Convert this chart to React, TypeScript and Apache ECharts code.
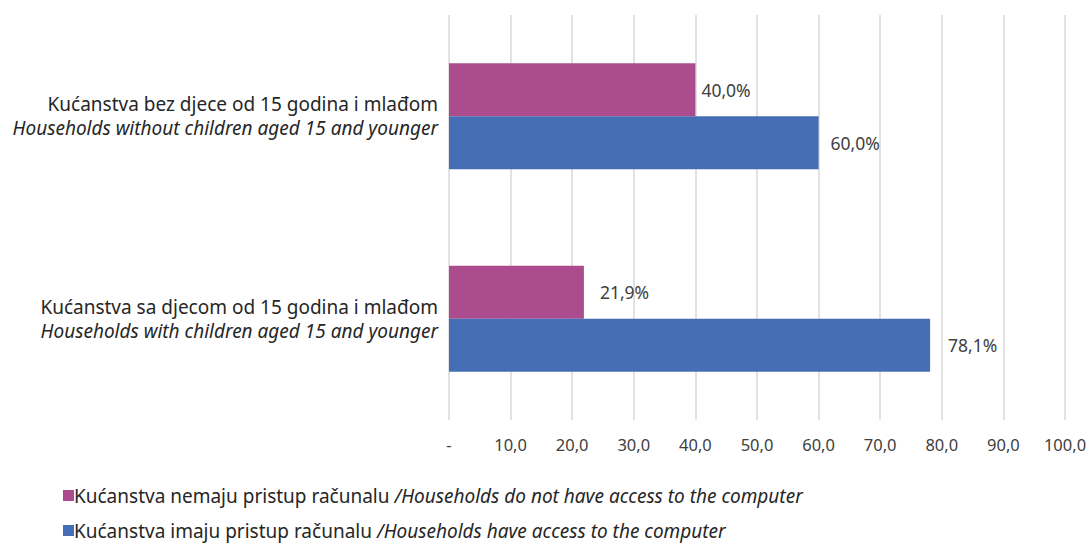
import React, { useEffect, useRef } from "react";
import * as echarts from "echarts";

const categories = [
  ["Kućanstva sa djecom od 15 godina i mlađom", "Households with children aged 15 and younger"],
  ["Kućanstva bez djece od 15 godina i mlađom", "Households without children aged 15 and younger"],
];
const seriesNames = [
  ["Kućanstva nemaju pristup računalu ", "/Households do not have access to the computer"],
  ["Kućanstva imaju pristup računalu ", "/Households have access to the computer"],
];
const noAccess = [21.9, 40.0];
const hasAccess = [78.1, 60.0];
const colors = ["#ad4b8f", "#466eb4"];
const FONT = "Noto Sans";

export default function App() {
  const ref = useRef<HTMLDivElement>(null);
  useEffect(() => {
    const chart = echarts.init(ref.current!, null, { renderer: "svg" });
    const fmt = (v: number) => v.toFixed(1).replace(".", ",");
    const legendRich = {
      n: { fontFamily: FONT, fontSize: 19, color: "#262626" },
      i: { fontFamily: FONT, fontSize: 19, color: "#262626", fontStyle: "italic" },
    };
    const legendFmt = (name: string) => {
      const s = seriesNames.find((p) => p[0].trim() === name)!;
      return `{n|${s[0]}}{i|${s[1]}}`;
    };
    const labelBase = {
      show: true,
      position: "right",
      fontFamily: FONT,
      fontSize: 17.5,
      color: "#404040",
      formatter: (p: any) => fmt(p.value) + "%",
    };
    chart.setOption({
      animation: false,
      textStyle: { fontFamily: FONT },
      grid: { left: 449, right: 27, top: 15, bottom: 124 },
      legend: [
        {
          data: [seriesNames[0][0].trim()],
          left: 58,
          top: 481,
          itemWidth: 11,
          itemHeight: 11,
          icon: "rect",
          formatter: legendFmt,
          textStyle: { rich: legendRich, padding: [0, 0, 0, -5] },
        },
        {
          data: [seriesNames[1][0].trim()],
          left: 58,
          top: 516,
          itemWidth: 11,
          itemHeight: 11,
          icon: "rect",
          formatter: legendFmt,
          textStyle: { rich: legendRich, padding: [0, 0, 0, -5] },
        },
      ],
      xAxis: {
        type: "value",
        min: 0,
        max: 100,
        interval: 10,
        axisLine: { show: false },
        axisTick: { show: false },
        splitLine: { show: true, lineStyle: { color: "#d9d9d9", width: 1.5 } },
        axisLabel: {
          margin: 16,
          fontSize: 16.5,
          color: "#404040",
          fontFamily: FONT,
          formatter: (v: number) => (v === 0 ? "-" : fmt(v)),
        },
      },
      yAxis: {
        type: "category",
        data: categories.map((c) => c[0]),
        axisLine: { show: false },
        axisTick: { show: false },
        axisLabel: {
          margin: 11,
          align: "right",
          formatter: (_: string, idx: number) => `{a|${categories[idx][0]}}\n{b|${categories[idx][1]}}`,
          rich: {
            a: { fontFamily: FONT, fontSize: 19, color: "#262626", lineHeight: 24, align: "right" },
            b: { fontFamily: FONT, fontSize: 19, color: "#262626", lineHeight: 24, fontStyle: "italic", align: "right" },
          },
        },
      },
      series: [
        {
          name: seriesNames[0][0].trim(),
          type: "bar",
          data: noAccess.map((v, i) => ({ value: v, label: { distance: [16, 6][i] } })),
          barWidth: 53,
          barGap: "0%",
          itemStyle: { color: colors[0] },
          label: labelBase,
        },
        {
          name: seriesNames[1][0].trim(),
          type: "bar",
          data: hasAccess.map((v, i) => ({ value: v, label: { distance: [18, 12][i] } })),
          barWidth: 53,
          barGap: "0%",
          itemStyle: { color: colors[1] },
          label: labelBase,
        },
      ],
    });
    return () => chart.dispose();
  }, []);
  return <div ref={ref} style={{ width: 1092, height: 544, position: "absolute", left: 0, top: 0 }} />;
}
